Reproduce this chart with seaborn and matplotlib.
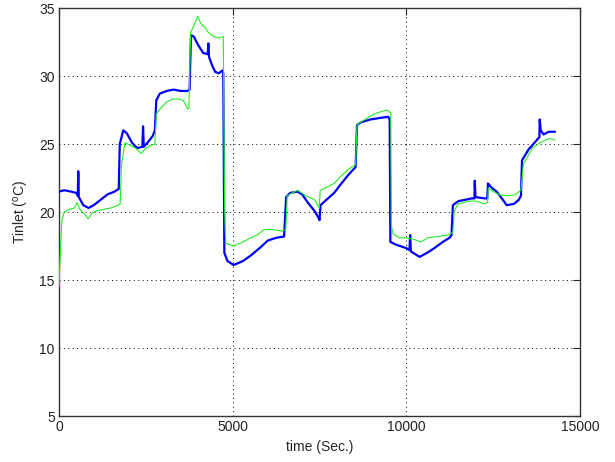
import matplotlib
matplotlib.use("Agg")
import matplotlib.pyplot as plt
import seaborn as sns
import pandas as pd

# ---- data ----
blue_t = [0, 150, 350, 500, 540, 555, 570, 700, 850, 1000, 1200, 1400, 1600, 1720,
          1750, 1850, 1950, 2100, 2250, 2400, 2420, 2440, 2550, 2700, 2760, 2800,
          2900, 3100, 3300, 3500, 3700, 3760, 3800, 3880, 4000, 4150, 4280, 4300,
          4320, 4420, 4500, 4600, 4700, 4730, 4760, 4850, 5030, 5300, 5520, 5800,
          6010, 6250, 6480, 6540, 6650, 6870, 7000, 7160, 7350, 7490, 7500, 7530,
          7700, 7920, 8100, 8320, 8500, 8540, 8580, 8700, 8960, 9200, 9480, 9520,
          9540, 9700, 9990, 10090, 10110, 10130, 10380, 10600, 10810, 11050, 11240,
          11300, 11340, 11500, 11700, 11880, 11960, 11970, 11990, 12250, 12330,
          12350, 12450, 12600, 12750, 12890, 13100, 13240, 13300, 13330, 13520,
          13760, 13830, 13840, 13870, 13950, 14100, 14280]
blue_T = [21.5, 21.6, 21.5, 21.4, 21.2, 23.0, 21.1, 20.5, 20.3, 20.5, 20.9, 21.3, 21.5, 21.7,
          25.0, 26.0, 25.8, 25.1, 24.7, 24.8, 26.3, 24.8, 25.1, 25.6, 26.0, 28.2,
          28.7, 28.9, 29.0, 28.9, 28.9, 29.0, 33.0, 32.9, 32.3, 31.7, 31.6, 32.4,
          31.4, 30.7, 30.3, 30.2, 30.4, 30.2, 17.0, 16.4, 16.1, 16.4, 16.8, 17.4,
          17.9, 18.1, 18.2, 21.1, 21.4, 21.5, 21.3, 20.7, 20.1, 19.5, 19.4, 20.5,
          20.9, 21.4, 22.0, 22.7, 23.2, 23.3, 26.4, 26.6, 26.8, 26.9, 27.0, 26.8,
          17.8, 17.6, 17.35, 17.2, 18.3, 17.1, 16.7, 17.0, 17.35, 17.8, 18.1,
          18.3, 20.5, 20.8, 20.9, 21.0, 21.0, 22.3, 21.1, 21.0, 21.0,
          22.1, 21.8, 21.5, 21.0, 20.5, 20.6, 20.9, 21.2, 23.8, 24.6,
          25.3, 25.5, 26.8, 26.0, 25.7, 25.9, 25.9]

green_t = [0, 30, 80, 150, 300, 450, 520, 600, 750, 840, 950, 1100, 1300, 1500, 1700,
           1760, 1800, 1900, 2050, 2200, 2370, 2500, 2650, 2760, 2800, 2950, 3100,
           3270, 3450, 3580, 3700, 3740, 3790, 3900, 3990, 4100, 4200, 4300, 4450,
           4600, 4730, 4745, 4770, 4800, 5030, 5300, 5520, 5700, 5900, 6150, 6400,
           6530, 6570, 6870, 7100, 7360, 7490, 7520, 7700, 7920, 8100, 8320, 8540,
           8580, 8800, 9070, 9300, 9440, 9550, 9570, 9620, 9800, 10000, 10200, 10430,
           10620, 10900, 11190, 11340, 11380, 11500, 11800, 12000, 12250, 12340,
           12360, 12500, 12700, 12900, 13120, 13300, 13370, 13630, 13850, 14110, 14280]
green_T = [14.5, 16.5, 19.3, 20.0, 20.2, 20.3, 20.7, 20.2, 19.8, 19.5, 19.9, 20.1, 20.2, 20.3, 20.5,
           20.6, 23.5, 25.1, 24.9, 24.7, 24.3, 24.7, 24.9, 25.0, 27.2, 27.7, 28.1,
           28.3, 28.3, 28.2, 27.6, 27.6, 33.2, 33.8, 34.4, 33.8, 33.6, 33.2, 32.9,
           32.8, 32.9, 27.6, 20.0, 17.7, 17.5, 17.8, 18.1, 18.3, 18.7, 18.7, 18.6,
           18.7, 21.2, 21.6, 21.2, 20.9, 20.3, 21.6, 21.8, 22.1, 22.6, 23.1, 23.5,
           26.4, 26.8, 27.2, 27.4, 27.5, 27.3, 19.0, 18.4, 18.1, 18.1, 18.0, 17.8,
           18.1, 18.2, 18.3, 18.5, 20.1, 20.6, 20.8, 20.8, 20.6, 20.7,
           21.75, 21.5, 21.25, 21.2, 21.25, 21.6, 23.5, 24.7, 25.1, 25.4, 25.3]

x_ticks = [0, 5000, 10000, 15000]
y_ticks = [5, 10, 15, 20, 25, 30, 35]

sns.set_style("white")
plt.rcParams['font.family'] = ['Liberation Sans', 'DejaVu Sans']
plt.rcParams['mathtext.fontset'] = 'custom'
plt.rcParams['mathtext.rm'] = 'Liberation Sans'
plt.rcParams['mathtext.it'] = 'Liberation Sans'

fig = plt.figure(figsize=(6.15, 4.62), dpi=100)
ax = fig.add_axes([59 / 615, 1 - 416 / 462, (580 - 59) / 615, (416 - 8) / 462])

blue_df = pd.DataFrame({"t": blue_t, "T": blue_T})
green_df = pd.DataFrame({"t": green_t, "T": green_T})

sns.lineplot(data=blue_df, x="t", y="T", color="#0000ff", linewidth=1.6,
             estimator=None, sort=False, ax=ax, zorder=3)
sns.lineplot(data=green_df, x="t", y="T", color="#22ee22", linewidth=0.8,
             estimator=None, sort=False, ax=ax, zorder=4)

ax.set_xlim(0, 15000)
ax.set_ylim(5, 35)
ax.set_xticks(x_ticks)
ax.set_yticks(y_ticks)
ax.set_xticklabels([str(v) for v in x_ticks])
ax.set_yticklabels([str(v) for v in y_ticks])
ax.tick_params(direction="in", length=5, width=0.8, top=True, right=True,
               labelsize=10, colors="#222222", pad=3)
ax.grid(True, color="black", linestyle=(0, (1, 3.5)), linewidth=0.7)
for s in ax.spines.values():
    s.set_color("#333333")
    s.set_linewidth(1.0)

ax.set_xlabel("time (Sec.)", fontsize=10, labelpad=4)
ax.set_ylabel("Tinlet ($^{o}$C)", fontsize=10, labelpad=6)

fig.savefig("out.png", dpi=100, facecolor="white")
